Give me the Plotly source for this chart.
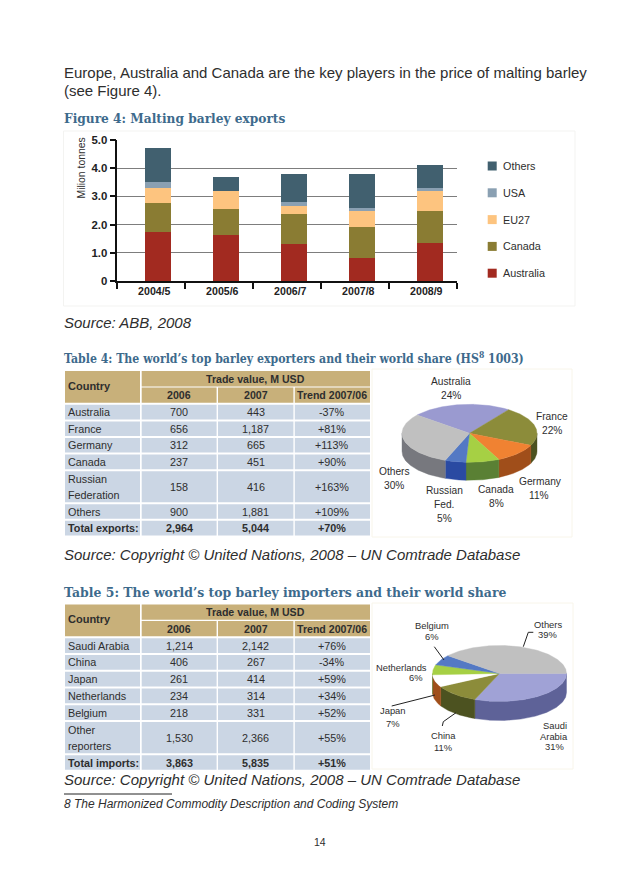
import math
import plotly.graph_objects as go

# ---------- data ----------
seasons = ["2004/5", "2005/6", "2006/7", "2007/8", "2008/9"]
australia = [1.74, 1.64, 1.32, 0.80, 1.36]
canada = [1.04, 0.92, 1.04, 1.11, 1.11]
eu27 = [0.52, 0.63, 0.30, 0.57, 0.72]
usa = [0.21, 0.0, 0.14, 0.11, 0.11]
others = [1.21, 0.51, 1.01, 1.20, 0.83]
y_ticks = [0, 1, 2, 3, 4, 5]
y_tick_labels = ["0", "1.0", "2.0", "3.0", "4.0", "5.0"]

t4_countries = ["Australia", "France", "Germany", "Canada", "Russian<br>Federation", "Others", "Total exports:"]
t4_2006 = ["700", "656", "312", "237", "158", "900", "2,964"]
t4_2007 = ["443", "1,187", "665", "451", "416", "1,881", "5,044"]
t4_trend = ["-37%", "+81%", "+113%", "+90%", "+163%", "+109%", "+70%"]

t5_countries = ["Saudi Arabia", "China", "Japan", "Netherlands", "Belgium", "Other<br>reporters", "Total imports:"]
t5_2006 = ["1,214", "406", "261", "234", "218", "1,530", "3,863"]
t5_2007 = ["2,142", "267", "414", "314", "331", "2,366", "5,835"]
t5_trend = ["+76%", "-34%", "+59%", "+34%", "+52%", "+55%", "+51%"]

pie1_names = ["Australia", "France", "Germany", "Canada", "Russian<br>Fed.", "Others"]
pie1_shares = [24, 22, 11, 8, 5, 30]
pie2_names = ["Saudi<br>Arabia", "China", "Japan", "Netherlands", "Belgium", "Others"]
pie2_shares = [31, 11, 7, 6, 6, 39]

# ---------- styles ----------
W, H = 638, 894
SANS = "Liberation Sans"
SERIF = "DejaVu Serif"
TITLE_C = "#3d6a8c"
TEXT_C = "#2e2e2e"
HEAD_C = "#c8b07a"
CELL_C = "#cbd6e4"

shapes, annos = [], []


def px_text(x, y, text, size=10.5, color=TEXT_C, family=SANS, anchor="center", bold=False, italic=False, angle=0):
    if bold:
        text = f"<b>{text}</b>"
    if italic:
        text = f"<i>{text}</i>"
    annos.append(dict(x=x, y=y, xref="x2", yref="y2", text=text, showarrow=False, xanchor=anchor,
                      yanchor="middle", align=anchor, textangle=angle,
                      font=dict(family=family, size=size, color=color), borderpad=0, borderwidth=0))


def rect(x0, y0, x1, y1, fill=None, line=None, lw=1):
    shapes.append(dict(type="rect", xref="x2", yref="y2", x0=x0, y0=y0, x1=x1, y1=y1, layer="below",
                       fillcolor=fill if fill else "rgba(0,0,0,0)",
                       line=dict(color=line if line else "rgba(0,0,0,0)", width=lw if line else 0)))


def leader(points):
    for (a, b), (c, d) in zip(points, points[1:]):
        shapes.append(dict(type="line", xref="x2", yref="y2", x0=a, y0=b, x1=c, y1=d,
                           line=dict(color="#222222", width=1)))


# ---------- page text ----------
BODY = 15
px_text(64, 72, "Europe, Australia and Canada are the key players in the price of malting barley", BODY, anchor="left")
px_text(64, 90, "(see Figure 4).", BODY, anchor="left")
px_text(64, 119, "Figure 4: Malting barley exports", 12.2, TITLE_C, SERIF, "left", bold=True)
px_text(64, 322, "Source: ABB, 2008", BODY, anchor="left", italic=True)
px_text(64, 358, "Table 4: The world’s top barley exporters and their world share (HS<sup>8</sup> 1003)", 12.2, TITLE_C,
        "DejaVu Serif Condensed", "left", bold=True)
px_text(64, 554, "Source: Copyright © United Nations, 2008 – UN Comtrade Database", BODY, anchor="left", italic=True)
px_text(64, 592, "Table 5: The world’s top barley importers and their world share", 12.45, TITLE_C, SERIF, "left", bold=True)
px_text(64, 779, "Source: Copyright © United Nations, 2008 – UN Comtrade Database", BODY, anchor="left", italic=True)
px_text(64, 804, "8 The Harmonized Commodity Description and Coding System", 12, anchor="left", italic=True)
px_text(320, 842, "14", 10.5)
shapes.append(dict(type="line", xref="x2", yref="y2", x0=64, y0=794, x1=172, y1=794, line=dict(color="#222222", width=1)))

# ---------- frames ----------
rect(63.5, 131, 575, 306, line="#f3f3f1", lw=1)
rect(372, 369, 572, 537, line="#f8f5ea", lw=1)
rect(372, 603, 573, 769, line="#f8f5ea", lw=1)
px_text(80.5, 168, "Milion tonnes", 10.4, angle=-90)


# ---------- tables ----------
def table(top, bands, col1, col2, col3, col4):
    xs = [(65, 140), (141.7, 216.6), (218, 293.4), (294.8, 370)]
    h0, h1, h2 = top, top + 15.4, top + 16.6
    h3 = h2 + 15.2
    rect(xs[0][0], h0, xs[0][1], h3, fill=HEAD_C)
    rect(xs[1][0], h0, xs[3][1], h1, fill=HEAD_C)
    for (a, b) in xs[1:]:
        rect(a, h2, b, h3, fill=HEAD_C)
    px_text(68, (h0 + h3) / 2 - 1, "Country", 11, anchor="left", bold=True)
    px_text((xs[1][0] + xs[3][1]) / 2, (h0 + h1) / 2, "Trade value, M USD", 10.6, bold=True)
    for (a, b), t in zip(xs[1:], ["2006", "2007", "Trend 2007/06"]):
        px_text((a + b) / 2, (h2 + h3) / 2, t, 10.6, bold=True)
    y = h3 + 2
    for i, band in enumerate(bands):
        last = i == len(bands) - 1
        for (a, b) in xs:
            rect(a, y, b, y + band, fill=CELL_C)
        mid = y + band / 2
        name = col1[i]
        if "<br>" in name:
            for j, part in enumerate(name.split("<br>")):
                px_text(68, mid + (j - 0.5) * 16, part, 10.8, anchor="left")
        else:
            px_text(68, mid, name, 10.8, anchor="left", bold=last)
        for (a, b), col in zip(xs[1:], [col2, col3, col4]):
            px_text((a + b) / 2, mid, col[i], 10.8, bold=last)
        y += band + 2


table(371, [14.6, 14.6, 14.6, 14.6, 31, 14.6, 14.6], t4_countries, t4_2006, t4_2007, t4_trend)
table(604.4, [14.8, 14.8, 14.8, 14.6, 14.8, 31.2, 14.6], t5_countries, t5_2006, t5_2007, t5_trend)

# ---------- figure ----------
fig = go.Figure()
bar_series = [("Australia", australia, "#a22a20"), ("Canada", canada, "#8a7c33"), ("EU27", eu27, "#fdc47f"),
              ("USA", usa, "#8aa0b2"), ("Others", others, "#41606f")]
for name, vals, col in bar_series:
    fig.add_trace(go.Bar(name=name, x=seasons, y=vals, marker=dict(color=col, line=dict(width=0)),
                         width=0.378, offset=-0.092, showlegend=False))

# legend, top to bottom
for k, (name, vals, col) in enumerate(reversed(bar_series)):
    yc = 166 + k * 26.8
    rect(487.7, yc - 4.5, 496.7, yc + 4.5, fill=col)
    px_text(503, yc, name, 10.8, anchor="left")


def pie3d(cx, cy, rx, ry, depth, shares, start, tops, sides):
    ang = start
    tot = sum(shares)
    spans = []
    for s in shares:
        spans.append((ang, ang - 360.0 * s / tot))
        ang = spans[-1][1]
    # walls: only the part of each slice on the near half of the ellipse
    for (a, b), side in zip(spans, sides):
        lo, hi = b, a
        for k in (0, -360):
            l2, h2 = max(lo, -180 + k), min(hi, 0 + k)
            if h2 <= l2:
                continue
            n = max(2, int(h2 - l2) + 1)
            th = [math.radians(h2 + (l2 - h2) * i / (n - 1)) for i in range(n)]
            xs = [cx + rx * math.cos(t) for t in th]
            ys = [cy - ry * math.sin(t) for t in th]
            fig.add_trace(go.Scatter(x=xs + xs[::-1] + xs[:1], y=ys + [v + depth for v in ys[::-1]] + ys[:1],
                                     xaxis="x2", yaxis="y2", mode="lines", fill="toself", fillcolor=side,
                                     line=dict(color=side, width=0.4), showlegend=False, hoverinfo="skip"))
    for (a, b), top in zip(spans, tops):
        n = max(2, int(a - b) + 1)
        th = [math.radians(a + (b - a) * i / (n - 1)) for i in range(n)]
        xs = [cx] + [cx + rx * math.cos(t) for t in th] + [cx]
        ys = [cy] + [cy - ry * math.sin(t) for t in th] + [cy]
        fig.add_trace(go.Scatter(x=xs, y=ys, xaxis="x2", yaxis="y2", mode="lines", fill="toself", fillcolor=top,
                                 line=dict(color=top, width=0.4), showlegend=False, hoverinfo="skip"))


pie3d(469.5, 433.3, 67.5, 29, 18, pie1_shares, 141,
      ["#9a9ad0", "#8c8c3a", "#f08232", "#a6d044", "#5479c4", "#c0c0c0"],
      ["#5f5f9c", "#4c5220", "#a04e1a", "#5a8034", "#2a4aa2", "#77787e"])
pie3d(499.5, 673.5, 67, 28, 19, pie2_shares, 0,
      ["#a0a2d6", "#8c8c3a", "#ffffff", "#a6d044", "#5479c4", "#c0c0c0"],
      ["#5e6298", "#4c5220", "#a04e1a", "#5a8034", "#2a4aa2", "#77787e"])

# pie labels: one position per text line (name lines, then the share)
pie1_spots = [[(450.5, 381.7), (450.5, 395.7)], [(552.3, 416), (552.3, 430)], [(540, 481.7), (539, 495.3)],
              [(496, 489.7), (496, 503.7)], [(444.3, 490.7), (444.3, 504.3), (444.3, 518.3)],
              [(394.3, 471.3), (394.3, 485.3)]]
pie2_spots = [[(555, 725.5), (554.3, 736), (554.3, 746.5)], [(443.3, 735), (443.3, 747.3)],
              [(393.3, 710.7), (393.3, 723.3)], [(401.7, 667.3), (415.7, 677.3)],
              [(432.3, 625.3), (432.3, 636)], [(547.7, 624.7), (547.7, 634.3)]]
for names, shares, spots, size in ((pie1_names, pie1_shares, pie1_spots, 10.2),
                                   (pie2_names, pie2_shares, pie2_spots, 9.4)):
    for name, share, spot in zip(names, shares, spots):
        for part, (x, y) in zip(name.split("<br>") + [f"{share}%"], spot):
            px_text(x, y, part, size)

leader([(434.3, 646.7), (444, 660)])
leader([(523.3, 646.7), (528.3, 632.3), (533.3, 632.3)])
leader([(391.7, 706), (435, 695)])
leader([(442.3, 726), (443.3, 721.7), (456, 712.7)])

fig.update_layout(
    width=W, height=H, autosize=False, margin=dict(l=0, r=0, t=0, b=0, pad=0, autoexpand=False),
    paper_bgcolor="white", plot_bgcolor="rgba(0,0,0,0)", barmode="stack", bargap=0.6,
    font=dict(family=SANS, color=TEXT_C), showlegend=False,
    shapes=shapes, annotations=annos,
    xaxis=dict(domain=[117.3 / W, 457.3 / W], anchor="y", type="category", categoryorder="array",
               categoryarray=seasons, range=[-0.5, 4.5], tickson="boundaries", ticks="outside", ticklen=6,
               tickwidth=1.5, tickcolor="#111111", showline=True, linecolor="#111111", linewidth=1.5,
               showgrid=False, zeroline=False, ticklabelshift=3, automargin=False,
               tickfont=dict(family=SANS, size=10.6, color="#222222", weight="bold"), fixedrange=True),
    yaxis=dict(domain=[1 - 281 / H, 1 - 140 / H], anchor="x", range=[0, 5], tickmode="array", tickvals=y_ticks,
               ticktext=y_tick_labels, ticks="outside", ticklen=6, tickwidth=1.5, tickcolor="#111111",
               showline=True, linecolor="#111111", linewidth=1.5, showgrid=True, gridcolor="#7d7d7d", gridwidth=1,
               zeroline=False, automargin=False,
               tickfont=dict(family=SANS, size=11.4, color="#222222", weight="bold"), fixedrange=True),
    xaxis2=dict(domain=[0, 1], range=[0, W], anchor="y2", visible=False, fixedrange=True),
    yaxis2=dict(domain=[0, 1], range=[H, 0], anchor="x2", visible=False, fixedrange=True),
)

fig.write_html("out.html", config=dict(displayModeBar=False),
               post_script="document.body.style.margin='0';")
